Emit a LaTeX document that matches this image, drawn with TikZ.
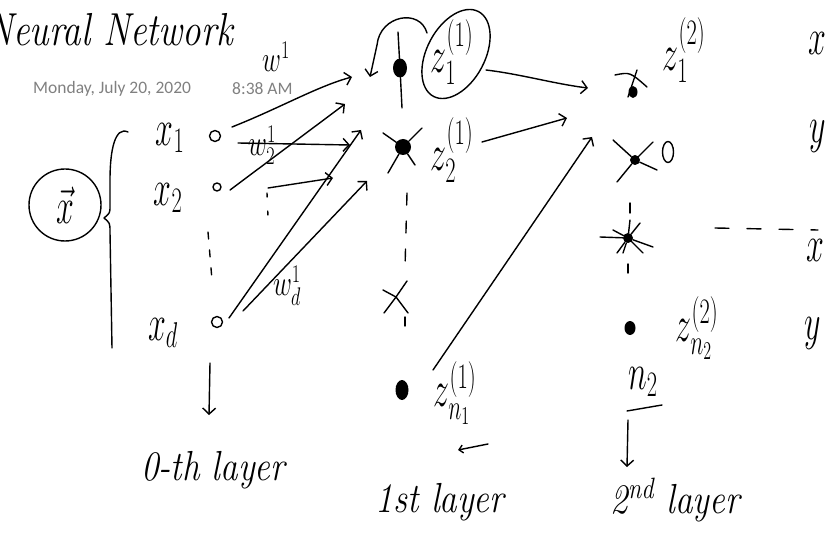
\RequirePackage{fix-cm}
\documentclass[tikz,border=0pt]{standalone}
\usepackage{fontspec}
\usepackage{amsmath}
\newfontfamily\datefont{Carlito}
\usetikzlibrary{arrows.meta,shapes.geometric}
\definecolor{datecol}{RGB}{128,128,128}
\begin{document}
\begin{tikzpicture}[x=1pt,y=-1pt,
  ink/.style={line width=1.4pt, line cap=round, line join=round},
  harrow/.style={ink, -{Straight Barb[length=6pt,width=13pt]}},
  hand/.style={inner sep=0pt, font=\fontsize{32}{34}\selectfont, yscale=1.6},
  small/.style={inner sep=0pt, font=\fontsize{26}{28}\selectfont, yscale=1.4},
  layerlab/.style={inner sep=0pt, font=\itshape\fontsize{35}{37}\selectfont, yscale=1.2},
  inp/.style={circle, draw, ink, inner sep=0pt, minimum size=11pt},
  blob/.style={ellipse, fill=black, inner sep=0pt, minimum width=14pt, minimum height=19pt},
  datestyle/.style={anchor=west, inner sep=0pt, text=datecol, font=\datefont\fontsize{17.5}{19}\selectfont}
]
\useasboundingbox (0,0) rectangle (835,537);

% title and date
\node[anchor=west, inner sep=0pt, font=\itshape\fontsize{37}{39}\selectfont, yscale=1.25] (title) at (-14,30) {Neural Network};
\node[datestyle] (date) at (33,89) {Monday, July 20, 2020};
\node[datestyle] (time) at (232,89) {8:38 AM};

% input vector
\node[circle, draw, ink, minimum size=72pt, inner sep=0pt] (X) at (65,205) {};
\node[hand] (Xlab) at (X.center) {$\vec{x}$};
\draw[ink] (128,132) .. controls (115,126) and (110,150) .. (110,180) -- (110,206)
  .. controls (110,213) .. (104,218) .. controls (110,223) .. (110,232) -- (112,348);

% inputs
\node[hand] (x1) at (170,138) {$x_1$};
\node[inp] (o1) at (215,136) {};
\node[hand] (x2) at (168,198) {$x_2$};
\node[inp, minimum size=8pt] (o2) at (217,187) {};
\node[hand] (xd) at (163,333) {$x_d$};
\node[inp] (od) at (217,322) {};
\coordinate (v1) at (208,232); \coordinate (v2) at (212,280);
\draw[ink, dash pattern=on 7pt off 11pt] (v1) -- (v2);

% weights
\node[small] (w11) at (276,57) {$w^1$};
\node[small] (w21) at (262,145) {$w_2^1$};
\node[small] (wd1) at (287,286) {$w_d^1$};

% layer 1 nodes
\node[blob] (n11) at (400,68) {};
\draw[ink] (398,32) -- (n11) -- (402,108);
\node[hand] (z11) at (452,52) {$z_1^{(1)}$};
\draw[ink, rotate around={-28:(456,54)}] (456,54) ellipse [x radius=29pt, y radius=48pt];
\coordinate (c1) at (427,33); \coordinate (c2) at (370,77);
\draw[harrow] (c1) .. controls (420,8) and (380,15) .. (377,45) -- (c2);

\node[blob, minimum width=16pt, minimum height=16pt] (n12) at (403,147) {};
\draw[ink] (383,133) -- (n12) -- (415,165);
\draw[ink] (422,128) -- (n12) -- (388,173);
\node[hand] (z21) at (452,150) {$z_2^{(1)}$};

\coordinate (n13) at (396,297);
\draw[ink] (383,290) -- (n13) -- (408,313);
\draw[ink] (384,313) -- (n13) -- (407,281);
\draw[ink, dash pattern=on 12pt off 16pt] (407,193) -- (405,268);
\draw[ink] (405,317) -- (405,326);

\node[blob, minimum width=13pt, minimum height=20pt] (n1n) at (402,390) {};
\node[hand] (zn1) at (455,393) {$z_{n_1}^{(1)}$};
\coordinate (u1) at (488,444); \coordinate (u2) at (458,450);
\draw[ink, -{Straight Barb[length=4pt,width=8pt]}] (u1) -- (u2);

% arrows into layer 1
\coordinate (s1) at (232,127); \coordinate (e1) at (352,77);
\draw[harrow] (s1) .. controls (280,108) and (318,86) .. (e1);
\coordinate (s2) at (238,143); \coordinate (e2) at (350,145);
\draw[harrow] (s2) -- (e2);
\coordinate (s3) at (230,190); \coordinate (e3) at (345,104);
\draw[harrow] (s3) -- (e3);
\coordinate (s4) at (229,318); \coordinate (e4) at (361,130);
\draw[harrow] (s4) -- (e4);
\coordinate (s5) at (268,188); \coordinate (e5) at (333,178);
\draw[harrow] (s5) -- (e5);
\draw[ink, dash pattern=on 4pt off 14pt] (267,193) -- (268,217);
\coordinate (s6) at (243,311); \coordinate (e6) at (367,181);
\draw[harrow] (s6) -- (e6);

% layer 2 nodes
\node[blob, minimum width=9pt, minimum height=12pt] (n21) at (633,92) {};
\draw[ink] (615,75) .. controls (630,72) .. (647,87);
\draw[ink] (637,70) -- (628,97);
\node[hand] (z12) at (684,50) {$z_1^{(2)}$};

\node[blob, minimum width=10pt, minimum height=10pt] (n22) at (635,160) {};
\draw[ink] (613,140) -- (n22) -- (657,170);
\draw[ink] (653,142) -- (n22) -- (617,182);
\node[ellipse, draw, ink, inner sep=0pt, minimum width=11pt, minimum height=21pt] (o22) at (668,152) {};

\draw[ink] (630,203) -- (630,213);
\node[blob, minimum width=10pt, minimum height=10pt] (n23) at (628,238) {};
\draw[ink] (630,220) -- (n23) -- (623,253);
\draw[ink] (600,237) -- (n23) -- (653,247);
\draw[ink] (613,230) -- (n23) -- (643,253);
\draw[ink] (640,223) -- (n23) -- (617,253);
\draw[ink] (628,264) -- (628,273);

\node[blob, minimum width=11pt, minimum height=14pt] (n2n) at (630,328) {};
\node[hand] (zn2) at (697,328) {$z_{n_2}^{(2)}$};

\node[hand] (n2lab) at (643,382) {$n_2$};
\coordinate (ul1) at (627,411); \coordinate (ul2) at (662,405);
\draw[ink] (ul1) -- (ul2);
\coordinate (d1) at (628,420); \coordinate (d2) at (627,467);
\draw[harrow] (d1) -- (d2);

% arrows into layer 2
\coordinate (t1) at (486,70); \coordinate (f1) at (588,88);
\draw[harrow] (t1) .. controls (520,74) and (555,84) .. (f1);
\coordinate (t2) at (482,142); \coordinate (f2) at (567,118);
\draw[harrow] (t2) -- (f2);
\coordinate (t3) at (433,370); \coordinate (f3) at (592,137);
\draw[harrow] (t3) -- (f3);

% 0-th layer arrow
\coordinate (a1) at (210,363); \coordinate (a2) at (209,415);
\draw[harrow] (a1) -- (a2);

% layer labels
\node[layerlab] (L0) at (213,470) {0-th layer};
\node[layerlab] (L1) at (440,502) {1st layer};
\node[layerlab] (L2) at (675,500) {2\textsuperscript{nd} layer};

% right column
\node[hand] (rx1) at (817,43) {$x$};
\node[hand] (ry1) at (818,136) {$y$};
\coordinate (h1) at (715,228); \coordinate (h2) at (818,230);
\draw[ink, dash pattern=on 14pt off 18pt] (h1) -- (h2);
\node[hand] (rx2) at (815,250) {$x$};
\node[hand] (ry2) at (813,333) {$y$};
\end{tikzpicture}
\end{document}
